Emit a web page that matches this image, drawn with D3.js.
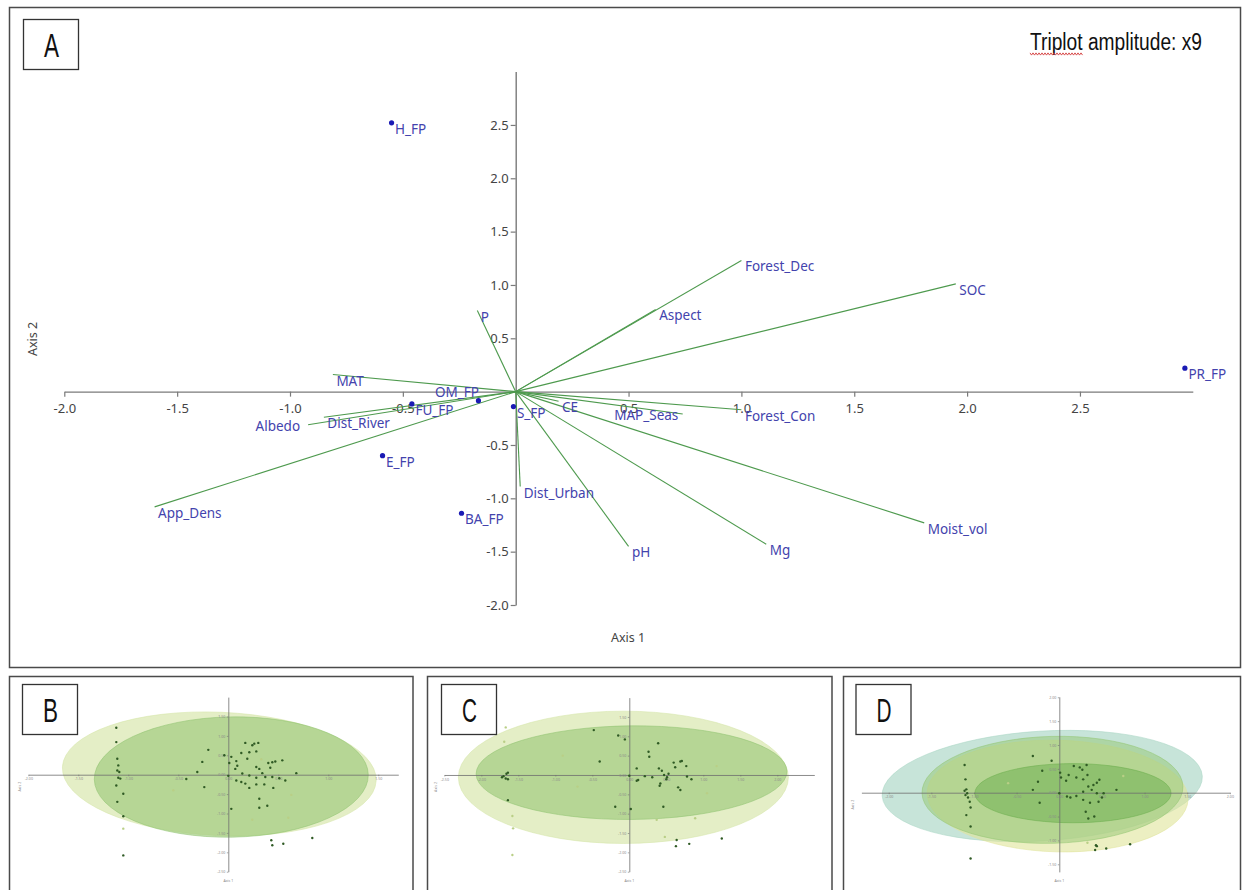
<!DOCTYPE html>
<html>
<head>
<meta charset="utf-8">
<script src="https://cdnjs.cloudflare.com/ajax/libs/d3/7.8.5/d3.min.js"></script>
<style>
  body { margin: 0; background: #fff; }
  svg { display: block; }
</style>
</head>
<body>
<svg id="fig" width="1243" height="890"></svg>
<script>
// ---------- Panel A: triplot (environmental vectors + functional groups) ----------
const vectorNames = ["Forest_Dec", "SOC", "Aspect", "P", "MAT", "Dist_River", "Albedo", "App_Dens",
                     "CE", "MAP_Seas", "Forest_Con", "Moist_vol", "Mg", "pH", "Dist_Urban"];
const vectorAxis1 = [1.00, 1.95, 0.62, -0.17, -0.81, -0.85, -0.92, -1.60, 0.19, 0.74, 1.00, 1.81, 1.11, 0.50, 0.02];
const vectorAxis2 = [1.23, 1.01, 0.77, 0.76, 0.16, -0.24, -0.31, -1.08, -0.09, -0.21, -0.17, -1.23, -1.43, -1.45, -0.89];

const groupNames = ["H_FP", "OM_FP", "FU_FP", "S_FP", "E_FP", "BA_FP", "PR_FP"];
const groupAxis1 = [-0.55, -0.165, -0.46, -0.01, -0.59, -0.24, 2.965];
const groupAxis2 = [2.52, -0.085, -0.115, -0.14, -0.60, -1.14, 0.22];

const xTicksA = [-2.0, -1.5, -1.0, -0.5, 0.5, 1.0, 1.5, 2.0, 2.5];
const yTicksA = [2.5, 2.0, 1.5, 1.0, 0.5, -0.5, -1.0, -1.5, -2.0];

// ---------- Panels B-D: sample ordinations with group ellipses ----------
// ellipse: [centre axis1, centre axis2, radius axis1, radius axis2, tilt in degrees]
const hullsB = [[-0.09, 0.02, 1.57, 1.59, 2.5], [0.03, -0.06, 1.37, 1.55, -1]];
const sitesB = [[-1.12,1.21],[-1.12,0.84],[-1.11,0.41],[-1.10,0.24],[-1.11,0.11],[-1.09,0.07],[-1.10,-0.08],
  [-1.08,-0.10],[-1.12,-0.28],[-1.05,-0.49],[-1.11,-0.70],[-1.05,-1.07],[-1.05,-2.08],
  [-0.26,0.33],[-0.31,0.07],[-0.42,-0.11],[-0.24,-0.32],[-0.20,0.64],[-0.04,0.50],[0.01,0.30],[0.03,0.46],
  [0.00,-0.03],[0.08,0.35],[0.09,0.23],[0.07,0.15],[0.03,-0.88],[0.13,0.56],[0.17,0.82],[0.21,0.58],
  [0.24,0.76],[0.26,0.80],[0.30,0.82],[0.28,0.60],[0.19,0.41],[0.14,0.03],[0.21,-0.02],[0.28,0.20],
  [0.31,0.15],[0.28,-0.08],[0.34,0.04],[0.40,0.30],[0.42,0.18],[0.44,0.32],[0.47,0.34],[0.54,0.37],
  [0.37,-0.06],[0.44,-0.06],[0.51,-0.09],[0.57,-0.15],[0.08,-0.15],[0.13,-0.19],[0.17,-0.23],[0.21,-0.34],
  [0.28,-0.25],[0.36,-0.25],[0.45,-0.34],[0.31,-0.62],[0.31,-0.85],[0.39,-0.80],[0.68,0.04],
  [0.43,-1.69],[0.44,-1.82],[0.55,-1.78],[0.84,-1.63]];
const paleSitesB = [[-1.05,-1.39],[0.63,-0.52],[0.60,-1.11],[0.24,-1.16],[0.33,0.40],[-0.55,-0.40]];
const xTicksB = [-2.0, -1.5, -1.0, -0.5, 0.0, 0.5, 1.0, 1.5];
const yTicksB = [1.5, 1.0, 0.5, 0.0, -0.5, -1.0, -1.5, -2.0, -2.5];

const hullsC = [[-0.08, -0.06, 2.23, 1.71, 0], [0.03, 0.06, 2.10, 1.21, -0.5]];
const sitesC = [[-1.64,0.06],[-1.66,0.03],[-1.70,-0.03],[-1.72,-0.06],[-1.67,-0.09],[-1.64,-0.11],[-1.64,-0.65],
  [-0.48,1.16],[-0.15,1.02],[-0.06,0.92],[-0.40,0.35],[-0.19,-0.82],[0.02,-0.88],[0.10,-0.15],
  [0.39,0.82],[0.26,0.60],[0.27,0.47],[0.40,0.17],[0.44,0.11],[0.47,0.00],[0.53,0.03],[0.60,0.32],
  [0.62,0.20],[0.69,0.35],[0.71,0.36],[0.77,0.23],[0.78,-0.04],[0.84,-0.11],[0.51,-0.06],[0.50,-0.11],
  [0.42,-0.22],[0.41,-0.28],[0.66,-0.32],[0.69,-0.39],[0.21,-0.03],[0.31,-0.06],[0.12,-0.13],[0.10,0.17],
  [0.46,-0.82],[0.64,-1.68],[0.63,-1.84],[0.81,-1.78],[1.25,-1.64],[0.00,-0.02]];
const paleSitesC = [[-1.67,1.23],[-1.69,0.86],[-1.58,-1.06],[-1.57,-1.38],[-1.58,-2.07],[0.37,-1.16],
  [0.89,-1.12],[0.48,-1.60],[1.18,0.23],[1.05,-0.47],[-0.90,0.50],[-0.70,-0.30]];
const xTicksC = [-2.5, -2.0, -1.5, -1.0, -0.5, 0.0, 0.5, 1.0, 1.5, 2.0];
const yTicksC = [1.5, 1.0, 0.5, 0.0, -0.5, -1.0, -1.5, -2.0, -2.5];

// drawn back to front: outer teal, yellow, green, inner core
const hullsD = [[-0.20, 0.14, 1.88, 1.15, -3.6], [-0.02, -0.07, 1.53, 1.17, 1.5],
                [-0.08, 0.06, 1.53, 1.12, -1.5], [0.16, -0.01, 1.15, 0.62, 0]];
const sitesD = [[-1.11,0.58],[-1.10,0.28],[-1.09,0.07],[-1.11,0.04],[-1.08,-0.01],[-1.10,-0.05],[-1.07,-0.10],
  [-1.05,-0.19],[-1.04,-0.31],[-1.09,-0.47],[-1.04,-0.71],[-1.04,-1.38],[-0.31,0.77],[-0.09,0.67],
  [-0.20,0.46],[-0.25,0.23],[-0.31,0.06],[-0.23,-0.21],[0.02,0.32],[0.01,0.42],[0.08,0.25],[0.11,0.37],
  [0.17,0.56],[0.24,0.53],[0.27,0.48],[0.32,0.58],[0.20,0.32],[0.28,0.28],[0.33,0.37],[0.34,0.13],
  [0.40,0.16],[0.44,0.21],[0.47,0.27],[0.38,0.06],[0.28,0.02],[0.44,-0.01],[0.52,-0.01],[0.50,-0.10],
  [0.67,0.06],[0.09,-0.08],[0.13,-0.10],[0.20,-0.07],[0.28,-0.15],[0.36,-0.21],[0.46,-0.19],[0.31,-0.40],
  [0.34,-0.54],[0.41,-0.50],[0.43,-1.10],[0.44,-1.12],[0.42,-1.20],[0.55,-1.17],[0.83,-1.08],[0.00,-0.01]];
const paleSitesD = [[0.33,-1.05],[-0.60,0.20],[0.75,0.35]];
const xTicksD = [-2.0, -1.5, -1.0, -0.5, 0.0, 0.5, 1.0, 1.5, 2.0];
const yTicksD = [2.0, 1.5, 1.0, 0.5, 0.0, -0.5, -1.0, -1.5];

// ---------- drawing ----------
const svg = d3.select("#fig");
const labelFont = "'Noto Sans', 'Open Sans', sans-serif";
const tickFmt = d => d.toFixed(1);

// panel frames
const frames = [[9.5, 7.5, 1231, 660], [9.5, 676.5, 403.5, 230], [427.5, 676.5, 404.5, 230], [843.5, 676.5, 397, 230]];
svg.selectAll("rect.frame").data(frames).join("rect").attr("class", "frame")
  .attr("x", d => d[0]).attr("y", d => d[1]).attr("width", d => d[2]).attr("height", d => d[3])
  .attr("fill", "none").attr("stroke", "#4a4a4a").attr("stroke-width", 1.5);

// panel letters in boxes
function letterBox(letter, bx, by) {
  svg.append("rect").attr("x", bx).attr("y", by).attr("width", 55).attr("height", 50)
    .attr("fill", "#fff").attr("stroke", "#333").attr("stroke-width", 1.3);
  svg.append("text").attr("x", bx + 20.5).attr("y", by + 37.5)
    .attr("font-family", "'Liberation Sans', Arial, sans-serif").attr("font-size", 33)
    .attr("textLength", 15).attr("lengthAdjust", "spacingAndGlyphs")
    .attr("fill", "#111").text(letter);
}

// Panel A
const x = d3.scaleLinear().domain([-2, 3]).range([64.3, 1192.8]);
const y = d3.scaleLinear().domain([-2, 3]).range([605, 71.6]);
const A = svg.append("g");

const xAxis = d3.axisBottom(x).tickValues(xTicksA).tickSize(5).tickPadding(7).tickSizeOuter(0).tickFormat(tickFmt);
const yAxis = d3.axisLeft(y).tickValues(yTicksA).tickSize(5).tickPadding(2).tickSizeOuter(0).tickFormat(tickFmt);
function styleAxis(g, size, col) {
  g.select(".domain").attr("stroke", "#7a7a7a").attr("stroke-width", 1.4);
  g.selectAll(".tick line").attr("stroke", "#7a7a7a").attr("stroke-width", 1.2);
  g.selectAll("text").attr("fill", col).attr("font-size", size).attr("font-family", labelFont);
}
A.append("g").attr("transform", `translate(0,${y(0)})`).call(xAxis).call(g => styleAxis(g, 13, "#444"));
A.append("g").attr("transform", `translate(${x(0)},0)`).call(yAxis).call(g => styleAxis(g, 13, "#444"));

A.append("text").attr("x", 628).attr("y", 642).attr("text-anchor", "middle")
  .attr("font-family", labelFont).attr("font-size", 12.5).attr("fill", "#444").text("Axis 1");
A.append("text").attr("transform", "translate(37,339) rotate(-90)").attr("text-anchor", "middle")
  .attr("font-family", labelFont).attr("font-size", 12.5).attr("fill", "#444").text("Axis 2");

const vectors = vectorNames.map((n, i) => ({ name: n, a1: vectorAxis1[i], a2: vectorAxis2[i] }));
const groups = groupNames.map((n, i) => ({ name: n, a1: groupAxis1[i], a2: groupAxis2[i] }));

A.selectAll("line.vec").data(vectors).join("line").attr("class", "vec")
  .attr("x1", x(0)).attr("y1", y(0)).attr("x2", d => x(d.a1)).attr("y2", d => y(d.a2))
  .attr("stroke", "#4e9a4e").attr("stroke-width", 1.1);

A.selectAll("circle.grp").data(groups).join("circle").attr("class", "grp")
  .attr("cx", d => x(d.a1)).attr("cy", d => y(d.a2)).attr("r", 2.6).attr("fill", "#1a1ab4");

// labels sit just below-right of their point; a few are shifted to avoid collisions
const labelShift = { OM_FP: [-47, -15], Albedo: [-56, -4.5], MAP_Seas: [-72, -5] };
A.selectAll("text.lab").data(vectors.concat(groups)).join("text").attr("class", "lab")
  .attr("x", d => x(d.a1) + 3.5 + (labelShift[d.name] ? labelShift[d.name][0] : 0))
  .attr("y", d => y(d.a2) + 11 + (labelShift[d.name] ? labelShift[d.name][1] : 0))
  .attr("font-family", labelFont).attr("font-size", 13.5).attr("fill", "#4343ad")
  .text(d => d.name);

// amplitude note with spell-check underline
svg.append("text").attr("x", 1030).attr("y", 50)
  .attr("font-family", "'Liberation Sans', Arial, sans-serif").attr("font-size", 23)
  .attr("textLength", 172).attr("lengthAdjust", "spacingAndGlyphs").attr("fill", "#111")
  .text("Triplot amplitude: x9");
const squiggle = d3.range(0, 36).map(i => [1030 + i * 1.5, 54 + (i % 2 ? 1.1 : -1.1)]);
svg.append("path").attr("d", d3.line()(squiggle)).attr("fill", "none")
  .attr("stroke", "#d23a3a").attr("stroke-width", 0.9);

letterBox("A", 23.5, 19.5);

// mini ordination panels
const miniPanels = [
  { letter: "B", box: [22.5, 684.5], xd: [-2.0, 1.7], xr: [28.3, 398.3], yd: [-2.5, 2.0], yr: [871.7, 697.1],
    xt: xTicksB, yt: yTicksB, hulls: hullsB, sites: sitesB, pale: paleSitesB,
    fills: [["#d5e5a8", 0.65], ["#8fc26e", 0.55]] },
  { letter: "C", box: [441.5, 684.5], xd: [-2.5, 2.5], xr: [444.3, 814.3], yd: [-2.5, 2.0], yr: [871.7, 697.6],
    xt: xTicksC, yt: yTicksC, hulls: hullsC, sites: sitesC, pale: paleSitesC,
    fills: [["#d5e5a8", 0.65], ["#8fc26e", 0.55]] },
  { letter: "D", box: [856, 684.5], xd: [-2.32, 2.0], xr: [861.4, 1229.9], yd: [-1.66, 2.01], yr: [871.9, 696.8],
    xt: xTicksD, yt: yTicksD, hulls: hullsD, sites: sitesD, pale: paleSitesD,
    fills: [["#a9d6c4", 0.65], ["#e0e49a", 0.6], ["#93c671", 0.5], ["#6aad4c", 0.5]] }
];

miniPanels.forEach(p => {
  const g = svg.append("g");
  const sx = d3.scaleLinear().domain(p.xd).range(p.xr);
  const sy = d3.scaleLinear().domain(p.yd).range(p.yr);
  p.hulls.forEach((h, i) => {
    const cx = sx(h[0]), cy = sy(h[1]);
    g.append("ellipse").attr("cx", cx).attr("cy", cy)
      .attr("rx", sx(h[0] + h[2]) - cx).attr("ry", cy - sy(h[1] + h[3]))
      .attr("transform", `rotate(${h[4]},${cx},${cy})`)
      .attr("fill", p.fills[i][0]).attr("fill-opacity", p.fills[i][1])
      .attr("stroke", p.fills[i][0]).attr("stroke-opacity", 0.9).attr("stroke-width", 0.6);
  });
  const ax = d3.axisBottom(sx).tickValues(p.xt).tickSize(1.5).tickPadding(1.5).tickSizeOuter(0).tickFormat(d => d.toFixed(2));
  const ay = d3.axisLeft(sy).tickValues(p.yt).tickSize(1.5).tickPadding(1.5).tickSizeOuter(0).tickFormat(d => d.toFixed(2));
  [g.append("g").attr("transform", `translate(0,${sy(0)})`).call(ax),
   g.append("g").attr("transform", `translate(${sx(0)},0)`).call(ay)].forEach(a => {
    a.select(".domain").attr("stroke", "#6f6f6f").attr("stroke-width", 0.8);
    a.selectAll(".tick line").attr("stroke", "#6f6f6f").attr("stroke-width", 0.6);
    a.selectAll("text").attr("fill", "#8a8a8a").attr("font-size", 3.6).attr("font-family", labelFont);
  });
  g.append("text").attr("x", sx(0)).attr("y", p.yr[0] + 10).attr("text-anchor", "middle")
    .attr("font-family", labelFont).attr("font-size", 3.6).attr("fill", "#8a8a8a").text("Axis 1");
  g.append("text").attr("transform", `translate(${p.xr[0] - 7},${sy(0) + 12}) rotate(-90)`).attr("text-anchor", "middle")
    .attr("font-family", labelFont).attr("font-size", 3.6).attr("fill", "#8a8a8a").text("Axis 2");
  g.selectAll("circle.pale").data(p.pale).join("circle").attr("class", "pale")
    .attr("cx", d => sx(d[0])).attr("cy", d => sy(d[1])).attr("r", 1.2).attr("fill", "#b9cf86");
  g.selectAll("circle.site").data(p.sites).join("circle").attr("class", "site")
    .attr("cx", d => sx(d[0])).attr("cy", d => sy(d[1])).attr("r", 1.2).attr("fill", "#2f5a24");
  letterBox(p.letter, p.box[0], p.box[1]);
});
</script>
</body>
</html>
